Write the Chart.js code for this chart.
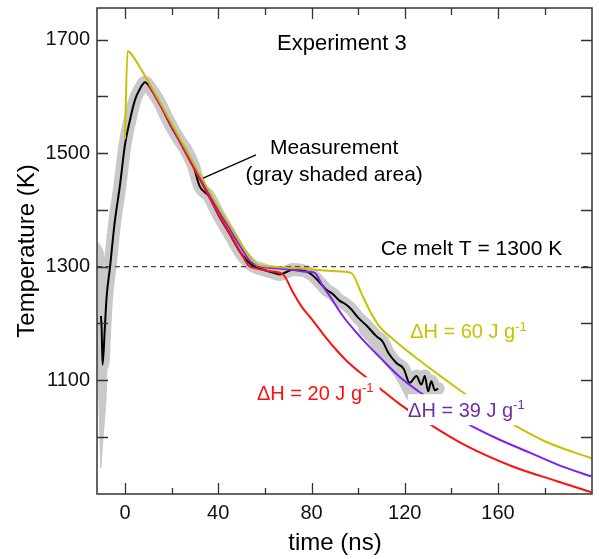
<!DOCTYPE html>
<html>
<head>
<meta charset="utf-8">
<script src="https://cdn.jsdelivr.net/npm/chart.js@4.4.1/dist/chart.umd.min.js"></script>
<style>
  html, body { margin: 0; padding: 0; background: #fff; }
  #wrap { width: 599px; height: 559px; }
</style>
</head>
<body>
<div id="wrap"><canvas id="c"></canvas></div>
<script>
// measurement (black line) and its gray uncertainty band
const measTime = [-10.3, -10.0, -9.6, -8.6, -7.9, -6.4, -4.5, -2.1, 0, 2, 4.3, 6.5, 8.6, 11, 15, 18, 20.7, 23.5, 26.4, 29.5, 32,
  36, 40, 45, 50, 55, 59, 63, 66.4, 69, 72, 75, 78, 80.7, 83.5, 86.4, 89, 92, 94.5, 97, 100, 103.6, 107.9, 110.5, 112.9,
  116.4, 119.5, 122.1, 125, 127.1, 128.6, 130, 131.4, 132.9, 134.3];
const measTemp = [1213, 1190, 1127, 1195, 1245, 1300, 1375, 1445, 1515, 1556, 1594, 1614, 1625, 1614, 1588, 1562, 1541, 1522, 1504, 1476, 1442,
  1424, 1392, 1357, 1322, 1301, 1295, 1290, 1286, 1290, 1295, 1294, 1291, 1284, 1272, 1259, 1252, 1240, 1234, 1225, 1210, 1196, 1177, 1168, 1148,
  1130, 1120, 1095, 1107, 1092, 1107, 1080, 1098, 1082, 1085];

// wide start of the gray band
const wedgeTime = [-11.4, -11.6, -11.2, -10.4, -8.1, -7.3, -7.4, -9.6, -11.4];
const wedgeTemp = [1342, 1180, 1060, 945, 1065, 1183, 1290, 1330, 1342];

// extra gray spread around 105-125 ns
const spreadTime = [103, 107, 111, 116, 120, 123];
const spreadTemp = [1190, 1172, 1150, 1125, 1100, 1075];

// model curves
const h60Time = [0, 1.1, 2, 10, 15, 20, 25, 30, 35, 40, 45, 50, 54, 57, 62, 70, 80, 90, 97, 101.5, 105, 109, 115, 124, 135, 145, 155, 165, 180, 200];
const h60Temp = [1525, 1680, 1678, 1626, 1590, 1552, 1515, 1478, 1441, 1405, 1372, 1339, 1315, 1303, 1300, 1298, 1295, 1292, 1289, 1252, 1222, 1195, 1172, 1142, 1108, 1078, 1050, 1025, 992, 962];

const h39Time = [10, 15, 20, 25, 30, 35, 40, 45, 50, 54, 58, 65, 72, 78, 81.4, 84.5, 88, 93.6, 100.7, 109.3, 118, 128, 137, 146.4, 160, 173.6, 186, 200];
const h39Temp = [1624, 1588, 1550, 1512, 1475, 1437, 1400, 1366, 1332, 1308, 1300, 1297, 1294, 1291, 1289, 1268, 1247, 1212, 1177, 1140, 1105, 1074, 1048, 1024, 996, 972, 950, 930];

const h20Time = [10, 15, 20, 25, 30, 35, 40, 45, 50, 53, 57, 62, 67.8, 72, 76, 80, 85, 90, 95, 100, 105, 110, 118, 130, 145, 166, 185, 200];
const h20Temp = [1621, 1585, 1547, 1508, 1470, 1431, 1393, 1358, 1322, 1302, 1296, 1292, 1286, 1255, 1228, 1208, 1181, 1156, 1134, 1116, 1100, 1083, 1057, 1024, 987, 948, 922, 902];

const meltTemp = 1300;
const xMin = -12, xMax = 200.3;
const yMin = 899, yMax = 1756;
const xLabelTicks = [0, 40, 80, 120, 160];
const yLabelTicks = [1100, 1300, 1500, 1700];

const FONT = '"Liberation Sans", Arial, Helvetica, sans-serif';
const YELLOW = '#c9c100', PURPLE = '#8020f0', RED = '#ff1010', GRAY = '#c9c9c9';

const pts = (ts, ks) => ts.map((t, i) => ({ x: t, y: ks[i] }));

const decor = {
  id: 'decor',
  afterDatasetsDraw(chart) {
    const { ctx, scales: { x, y } } = chart;
    ctx.save();
    ctx.textBaseline = 'middle';

    function text(str, t, k, align, color, size) {
      ctx.font = size + 'px ' + FONT;
      ctx.fillStyle = color;
      ctx.textAlign = align;
      ctx.fillText(str, x.getPixelForValue(t), y.getPixelForValue(k));
    }

    function deltaH(val, t, k, color, mask) {
      const left = x.getPixelForValue(t), mid = y.getPixelForValue(k);
      const main = '\u0394H = ' + val + ' J g';
      ctx.font = '20px ' + FONT;
      const w1 = ctx.measureText(main).width;
      ctx.font = '13px ' + FONT;
      const w2 = ctx.measureText('-1').width;
      if (mask) {
        ctx.fillStyle = '#fff';
        ctx.fillRect(left, mid - 17, w1 + w2 + 6, 31);
      }
      ctx.textAlign = 'left';
      ctx.fillStyle = color;
      ctx.font = '20px ' + FONT;
      ctx.fillText(main, left, mid);
      ctx.font = '13px ' + FONT;
      ctx.fillText('-1', left + w1, mid - 6);
    }

    text('Experiment 3', 93, 1693, 'center', '#000', 22);
    text('Measurement', 89.7, 1508, 'center', '#000', 21);
    text('(gray shaded area)', 89.7, 1462, 'center', '#000', 21);
    text('Ce melt T = 1300 K', 187.5, 1331, 'right', '#000', 21);

    // pointer to the measurement
    ctx.strokeStyle = '#000';
    ctx.lineWidth = 1.3;
    ctx.beginPath();
    ctx.moveTo(x.getPixelForValue(33.5), y.getPixelForValue(1456));
    ctx.lineTo(x.getPixelForValue(56.2), y.getPixelForValue(1497));
    ctx.stroke();

    deltaH(60, 122.3, 1183, YELLOW, false);
    deltaH(20, 56.6, 1075, RED, true);
    deltaH(39, 121.4, 1045, '#7030a0', true);
    ctx.restore();
  },
  afterDraw(chart) {
    const { ctx, chartArea: a, scales: { x, y } } = chart;
    ctx.save();
    ctx.strokeStyle = '#333';
    ctx.lineWidth = 1.3;
    ctx.beginPath();
    x.ticks.forEach(tk => {
      const px = Math.round(x.getPixelForValue(tk.value)) + 0.5;
      if (px < a.left + 3 || px > a.right - 3) return;
      const major = xLabelTicks.includes(tk.value);
      const lb = major ? 11 : 6, lt = major ? 11 : 7;
      ctx.moveTo(px, a.bottom); ctx.lineTo(px, a.bottom - lb);
      ctx.moveTo(px, a.top); ctx.lineTo(px, a.top + lt);
    });
    y.ticks.forEach(tk => {
      const py = Math.round(y.getPixelForValue(tk.value)) + 0.5;
      if (py < a.top + 3 || py > a.bottom - 3) return;
      ctx.moveTo(a.left, py); ctx.lineTo(a.left + 11, py);
      ctx.moveTo(a.right, py); ctx.lineTo(a.right - 11, py);
    });
    ctx.stroke();
    ctx.lineWidth = 1.5;
    ctx.strokeRect(a.left, a.top, a.right - a.left, a.bottom - a.top);

    // axis titles
    ctx.fillStyle = '#000';
    ctx.font = '24px ' + FONT;
    ctx.textAlign = 'center';
    ctx.textBaseline = 'middle';
    ctx.fillText('time (ns)', 335, 543);
    ctx.translate(27, (a.top + a.bottom) / 2);
    ctx.rotate(-Math.PI / 2);
    ctx.fillText('Temperature (K)', 0, 0);
    ctx.restore();
  }
};

const line = (data, color, width, order, extra) => Object.assign({
  data, borderColor: color, borderWidth: width, pointRadius: 0,
  fill: false, cubicInterpolationMode: 'monotone', order
}, extra || {});

new Chart(document.getElementById('c'), {
  type: 'line',
  data: {
    datasets: [
      line(pts(wedgeTime, wedgeTemp), GRAY, 1, 9, { fill: 'shape', backgroundColor: GRAY, cubicInterpolationMode: 'default', tension: 0 }),
      line(pts(measTime, measTemp), GRAY, 13, 8, { borderCapStyle: 'round', borderJoinStyle: 'round' }),
      line(pts(spreadTime, spreadTemp), GRAY, 14, 7, { borderCapStyle: 'round' }),
      line([{ x: xMin, y: meltTemp }, { x: xMax, y: meltTemp }], '#444', 1.3, 6, { borderDash: [5, 4] }),
      line(pts(measTime, measTemp), '#000', 2, 5),
      line(pts(h20Time, h20Temp), RED, 2, 4),
      line(pts(h39Time, h39Temp), PURPLE, 2, 3),
      line(pts(h60Time, h60Temp), YELLOW, 2, 2)
    ]
  },
  options: {
    responsive: true,
    maintainAspectRatio: false,
    animation: false,
    devicePixelRatio: 1,
    layout: { padding: { left: 0, top: 8, right: 7, bottom: 0 } },
    plugins: { legend: { display: false }, tooltip: { enabled: false } },
    scales: {
      x: {
        type: 'linear', min: xMin, max: xMax,
        grid: { display: false, drawTicks: false },
        border: { display: false },
        ticks: {
          stepSize: 20, includeBounds: false, padding: 7, maxRotation: 0, autoSkip: false,
          color: '#111', font: { family: FONT, size: 20 },
          callback: v => xLabelTicks.includes(v) ? String(v) : ''
        },
        afterFit: s => { s.height = 65; s.paddingLeft = 0; s.paddingRight = 0; }
      },
      y: {
        type: 'linear', min: yMin, max: yMax,
        grid: { display: false, drawTicks: false },
        border: { display: false },
        ticks: {
          stepSize: 100, includeBounds: false, padding: 7, autoSkip: false,
          color: '#111', font: { family: FONT, size: 20 },
          callback: v => yLabelTicks.includes(v) ? String(v) : ''
        },
        afterFit: s => { s.width = 97; s.paddingTop = 0; s.paddingBottom = 0; }
      }
    }
  },
  plugins: [decor]
});
</script>
</body>
</html>
